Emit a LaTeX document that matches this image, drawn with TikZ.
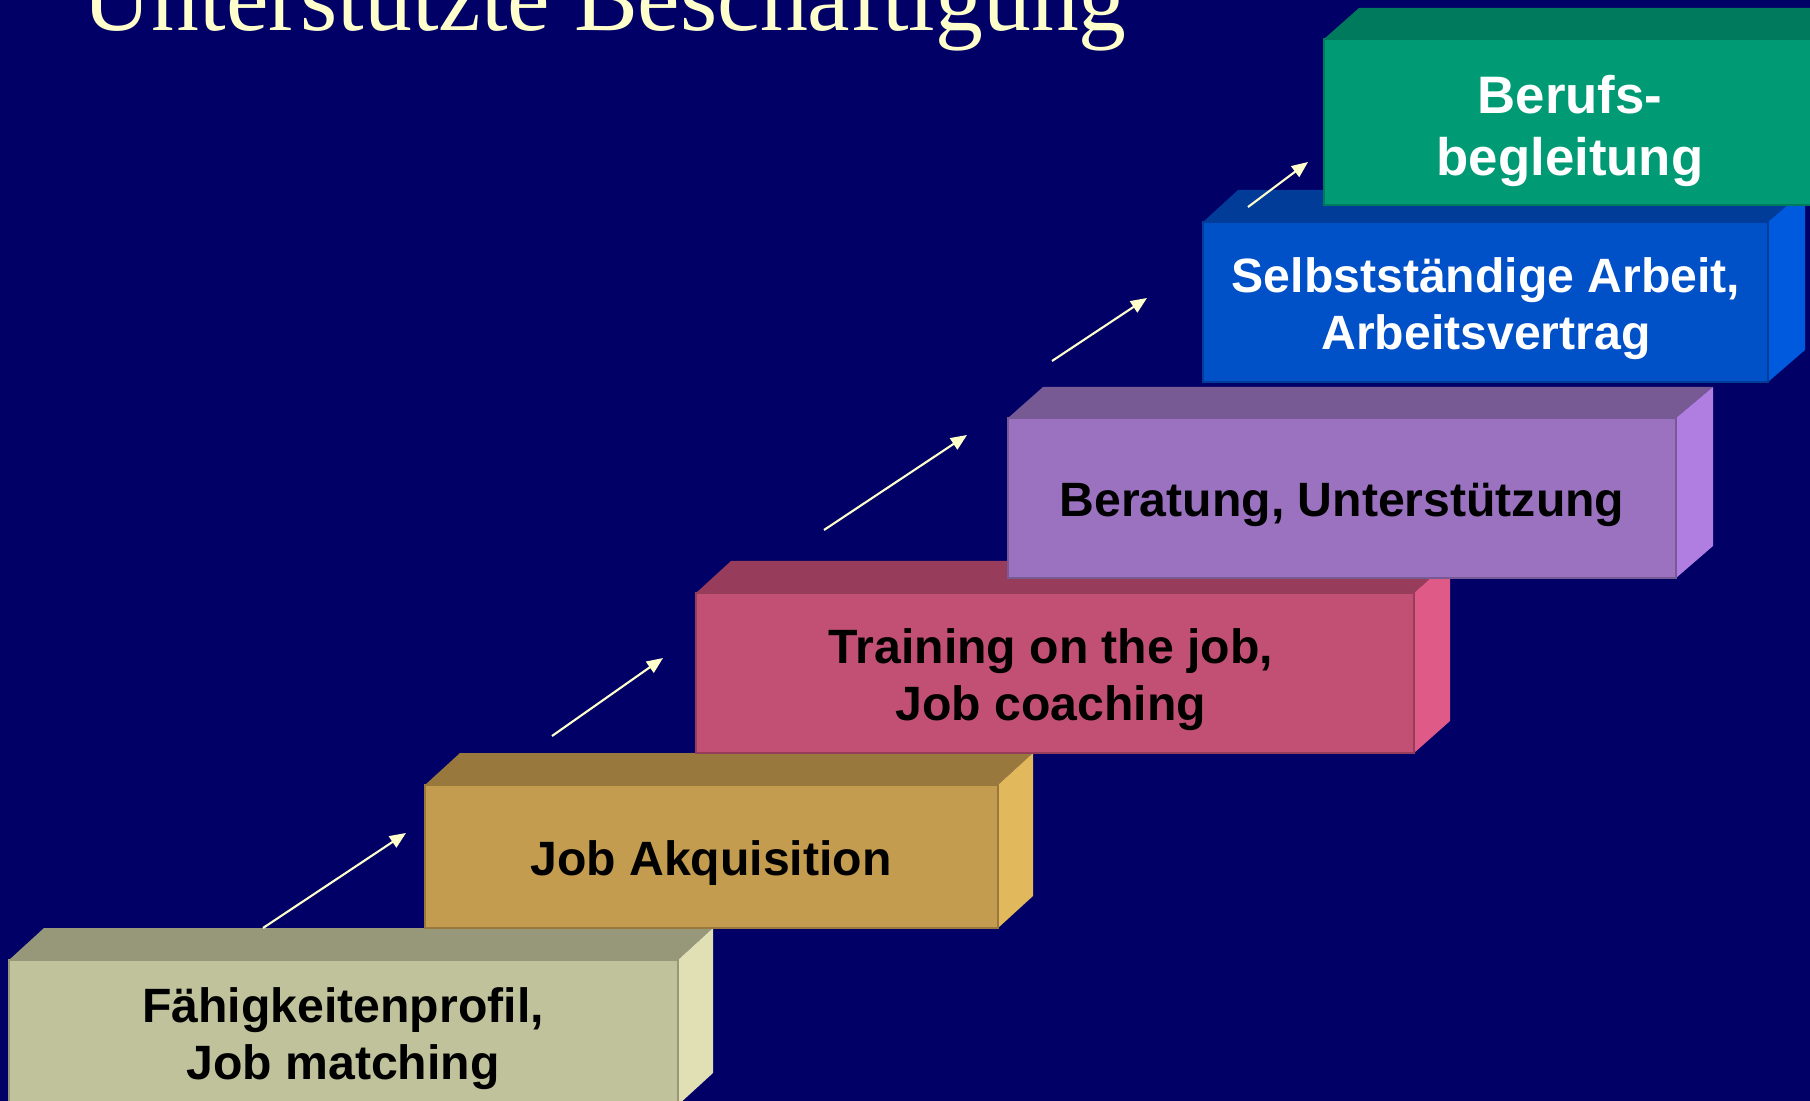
\documentclass[tikz,border=0pt]{standalone}
\usepackage{fontspec}
\setmainfont{Liberation Sans}
\newfontfamily\titlefont{Liberation Serif}
\usepackage{xcolor}
\usetikzlibrary{arrows.meta}

\definecolor{bgblue}{HTML}{000066}
\definecolor{titleyellow}{HTML}{FFFFCC}
\definecolor{khakifront}{HTML}{C0C29C}
\definecolor{khakitop}{HTML}{97977A}
\definecolor{khakiside}{HTML}{E0E0B4}
\definecolor{goldfront}{HTML}{C49C50}
\definecolor{goldtop}{HTML}{98783C}
\definecolor{goldside}{HTML}{E2B85C}
\definecolor{rosefront}{HTML}{C25075}
\definecolor{rosetop}{HTML}{983C5C}
\definecolor{roseside}{HTML}{E05A88}
\definecolor{lilacfront}{HTML}{9B72C0}
\definecolor{lilactop}{HTML}{775994}
\definecolor{lilacside}{HTML}{B07EE0}
\definecolor{bluefront}{HTML}{0050C8}
\definecolor{bluetop}{HTML}{003C98}
\definecolor{blueside}{HTML}{005ADE}
\definecolor{greenfront}{HTML}{009A74}
\definecolor{greentop}{HTML}{007A5C}

\begin{document}
\begin{tikzpicture}[x=0.01cm,y=-0.01cm,
	steptext/.style={font=\bfseries\fontsize{13.7}{16.2}\selectfont,align=center,inner sep=0pt},
	uparrow/.style={-{Triangle[length=4.6pt,width=3.8pt]},titleyellow,line width=0.6pt}]
	\useasboundingbox (0,0) rectangle (1810,1101);
	\fill[bgblue] (0,0) rectangle (1810,1101);

	\node[anchor=base west,text=titleyellow,font=\titlefont\fontsize{27.2}{32}\selectfont,inner sep=0pt] (titel) at (82,31) {Unterstützte Beschäftigung};

	\fill[khakitop] (9,960) -- (44,928) -- (713,928) -- (678,960) -- cycle;
	\fill[khakiside] (678,960) -- (713,928) -- (713,1073) -- (678,1105) -- cycle;
	\filldraw[fill=khakifront,draw=khakitop,line width=0.4pt] (9,960) rectangle (678,1110);
	\node[steptext] (profil) at (343,1039) {Fähigkeitenprofil,\\Job matching};

	\fill[goldtop] (425,785) -- (460,753) -- (1033,753) -- (998,785) -- cycle;
	\fill[goldside] (998,785) -- (1033,753) -- (1033,896) -- (998,928) -- cycle;
	\filldraw[fill=goldfront,draw=goldtop,line width=0.4pt] (425,785) rectangle (998,928);
	\node[steptext] (akquise) at (711,863) {Job Akquisition};

	\fill[rosetop] (696,593) -- (731,561) -- (1450,561) -- (1414,593) -- cycle;
	\fill[roseside] (1414,593) -- (1450,561) -- (1450,721) -- (1414,753) -- cycle;
	\filldraw[fill=rosefront,draw=rosetop,line width=0.4pt] (696,593) rectangle (1414,753);
	\node[steptext] (training) at (1051,680) {Training on the job,\\Job coaching};

	\fill[lilactop] (1008,418) -- (1043,387) -- (1713,387) -- (1676,418) -- cycle;
	\fill[lilacside] (1676,418) -- (1713,387) -- (1713,546) -- (1676,578) -- cycle;
	\filldraw[fill=lilacfront,draw=lilactop,line width=0.4pt] (1008,418) rectangle (1676,578);
	\node[steptext] (beratung) at (1342,505) {Beratung, Unterstützung};

	\fill[bluetop] (1203,222) -- (1238,190) -- (1805,190) -- (1768,222) -- cycle;
	\fill[blueside] (1768,222) -- (1805,190) -- (1805,350) -- (1768,382) -- cycle;
	\filldraw[fill=bluefront,draw=bluetop,line width=0.4pt] (1203,222) rectangle (1768,382);
	\node[steptext,text=white] (arbeit) at (1486,309) {Selbstständige Arbeit,\\Arbeitsvertrag};

	\fill[greentop] (1324,39) -- (1359,8) -- (1850,8) -- (1830,39) -- cycle;
	\filldraw[fill=greenfront,draw=greentop,line width=0.4pt] (1324,39) rectangle (1830,205);
	\node[steptext,text=white,font=\bfseries\fontsize{15}{17.9}\selectfont] (begleitung) at (1570,131) {Berufs-\\begleitung};

	\coordinate (a1) at (263,928);
	\coordinate (b1) at (406,833);
	\coordinate (a2) at (552,736);
	\coordinate (b2) at (663,658);
	\coordinate (a3) at (824,530);
	\coordinate (b3) at (967,435);
	\coordinate (a4) at (1052,361);
	\coordinate (b4) at (1147,298);
	\coordinate (a5) at (1248,207);
	\coordinate (b5) at (1308,162);

	\draw[uparrow] (a1) -- (b1);
	\draw[uparrow] (a2) -- (b2);
	\draw[uparrow] (a3) -- (b3);
	\draw[uparrow] (a4) -- (b4);
	\draw[uparrow] (a5) -- (b5);
\end{tikzpicture}
\end{document}
